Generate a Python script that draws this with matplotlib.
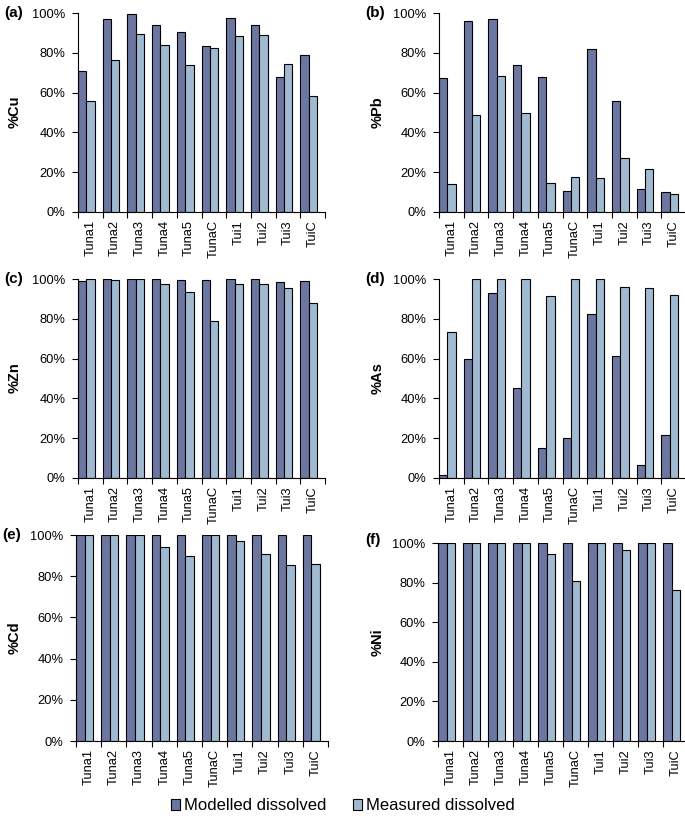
import matplotlib
matplotlib.use("Agg")
import matplotlib.pyplot as plt
import numpy as np
from matplotlib.ticker import PercentFormatter, FixedLocator
from matplotlib.patches import Patch

plt.rcParams['font.family'] = ['Liberation Sans', 'DejaVu Sans']

sites = ["Tuna1", "Tuna2", "Tuna3", "Tuna4", "Tuna5", "TunaC", "Tui1", "Tui2", "Tui3", "TuiC"]

cu_model = [71, 97, 99.3, 94, 90.5, 83.2, 97.7, 94, 68, 79]
cu_meas = [56, 76.5, 89.3, 84, 74, 82.5, 88.4, 89, 74.6, 58.5]

pb_model = [67.1, 96.2, 97, 74, 67.6, 10.8, 81.8, 56, 11.6, 9.8]
pb_meas = [14, 48.9, 68.3, 49.9, 14.7, 17.5, 17.2, 27.2, 21.8, 9.1]

zn_model = [99.2, 100, 100, 100, 99.6, 99.6, 100, 100, 98.5, 99.1]
zn_meas = [100, 99.3, 100, 97.6, 93.4, 78.7, 97.7, 97.7, 95.4, 87.8]

as_model = [1.3, 59.8, 93.2, 45.2, 14.9, 20.2, 82.3, 61.2, 6.5, 21.8]
as_meas = [73.2, 100, 100, 100, 91.7, 100, 100, 96, 95.7, 91.8]

cd_model = [100, 100, 100, 100, 100, 99.8, 100, 100, 99.8, 99.8]
cd_meas = [100, 100, 100, 94.2, 90, 100, 97.2, 90.6, 85.2, 85.7]

ni_model = [100, 100, 100, 100, 100, 100, 100, 100, 100, 100]
ni_meas = [100, 100, 100, 100, 94.5, 81, 100, 96.7, 100, 76.3]

panels = [
    ("(a)", "%Cu", cu_model, cu_meas, (78, 13, 247, 199), (15, 112), (4, 13)),
    ("(b)", "%Pb", pb_model, pb_meas, (439, 13, 247, 199), (378, 112), (365, 13)),
    ("(c)", "%Zn", zn_model, zn_meas, (78, 279, 247, 199), (15, 378), (4, 279)),
    ("(d)", "%As", as_model, as_meas, (439, 279, 247, 199), (378, 378), (365, 279)),
    ("(e)", "%Cd", cd_model, cd_meas, (76, 535, 252, 206), (15, 638), (2, 535)),
    ("(f)", "%Ni", ni_model, ni_meas, (438, 543, 250, 198), (378, 642), (365, 540)),
]

W, H = 685, 825
dark = "#6C77A1"
light = "#A0BBD1"

fig = plt.figure(figsize=(W / 100, H / 100), dpi=100)

bw = 0.34
x = np.arange(len(sites))
for letter, ylab, mod, meas, (l, t, w, h), (yx, yy), (lx, ly) in panels:
    ax = fig.add_axes([l / W, 1 - (t + h) / H, w / W, h / H])
    ax.bar(x, [v / 100 for v in mod], width=bw, align='edge', color=dark,
           edgecolor='black', linewidth=0.8)
    ax.bar(x + bw, [v / 100 for v in meas], width=bw, align='edge', color=light,
           edgecolor='black', linewidth=0.8)
    ax.set_xlim(0, len(sites))
    ax.set_ylim(0, 1)
    ax.set_yticks(np.arange(0, 1.01, 0.2))
    ax.yaxis.set_major_formatter(PercentFormatter(1.0, decimals=0))
    ax.xaxis.set_major_locator(FixedLocator(np.arange(0, len(sites) + 1)))
    ax.xaxis.set_minor_locator(FixedLocator(x + 0.5))
    ax.set_xticklabels([])
    ax.set_xticklabels(sites, minor=True, rotation=90, fontsize=9.3)
    ax.tick_params(axis='x', which='minor', length=0, pad=6)
    ax.tick_params(axis='x', which='major', length=4, width=0.8, direction='out')
    ax.tick_params(axis='y', length=4, width=0.8, labelsize=9.3, pad=5)
    for s in ('top', 'right'):
        ax.spines[s].set_visible(False)
    for s in ('left', 'bottom'):
        ax.spines[s].set_linewidth(0.8)
    fig.text(yx / W, 1 - yy / H, ylab, rotation=90, ha='center', va='center',
             fontsize=10.5, fontweight='bold')
    fig.text(lx / W, 1 - ly / H, letter, ha='left', va='center',
             fontsize=11, fontweight='bold')

handles = [Patch(facecolor=dark, edgecolor='black', linewidth=0.8, label="Modelled dissolved"),
           Patch(facecolor=light, edgecolor='black', linewidth=0.8, label="Measured dissolved")]
fig.legend(handles=handles, loc='center', bbox_to_anchor=(343 / W, 1 - 806 / H), ncol=2,
           frameon=False, fontsize=12, handlelength=0.55, handleheight=0.6,
           handletextpad=0.25, columnspacing=1.6)

fig.savefig("out.png", dpi=100)
